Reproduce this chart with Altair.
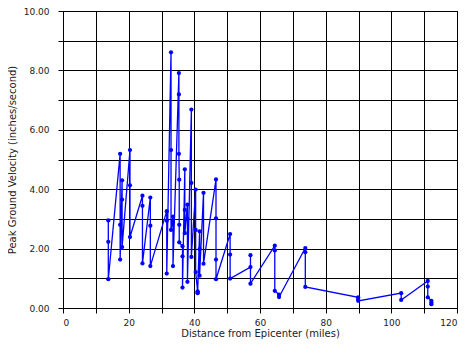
import altair as alt
import pandas as pd

# Distance from epicenter (miles), in recorded order
distance = [
    13.8, 13.8, 13.8,
    17.4, 17.4, 17.4,
    18.0, 18.0, 18.0,
    20.4, 20.4, 20.4,
    24.2, 24.2, 24.2,
    26.6, 26.6, 26.6,
    31.6, 31.6, 31.6,
    32.9, 32.9, 32.9,
    33.5, 33.5, 33.5,
    35.3, 35.3, 35.3,
    35.4, 35.4, 35.4,
    36.4, 36.4, 36.4,
    37.1, 37.1, 37.1,
    37.9, 37.9, 37.9,
    39.1, 39.1, 39.1,
    40.4, 40.4, 40.4,
    41.0, 41.0, 41.0,
    41.6, 41.6, 41.6,
    42.8, 42.8,
    46.6, 46.6, 46.6, 46.6,
    50.9, 50.9, 50.9,
    57.1, 57.1, 57.1,
    64.5, 64.5, 64.5,
    65.8, 65.8,
    73.8, 73.8, 73.8,
    89.9, 89.9, 89.9,
    103.0, 103.0,
    111.1, 111.1, 111.1,
    112.2, 112.2, 112.2,
]

# Peak ground velocity (inches/second)
velocity = [
    2.95, 2.23, 0.97,
    5.19, 2.80, 1.63,
    4.30, 3.65, 2.05,
    5.32, 4.13, 2.39,
    3.78, 3.44, 1.50,
    3.72, 2.77, 1.41,
    3.26, 2.94, 1.16,
    8.61, 5.32, 2.63,
    3.08, 2.90, 1.41,
    7.91, 7.19, 5.19,
    4.32, 2.80, 2.21,
    2.08, 1.74, 0.69,
    4.67, 3.30, 2.52,
    3.48, 3.00, 0.88,
    6.68, 4.21, 1.72,
    3.99, 2.63, 1.21,
    0.56, 0.52, 0.50,
    2.58, 1.98, 1.09,
    3.88, 1.49,
    4.33, 3.02, 1.63, 0.97,
    2.49, 1.80, 0.99,
    1.38, 1.78, 0.82,
    2.10, 1.94, 0.58,
    0.45, 0.37,
    2.02, 1.88, 0.71,
    0.36, 0.30, 0.24,
    0.50, 0.27,
    0.91, 0.72, 0.36,
    0.24, 0.18, 0.13,
]

x_ticks = list(range(0, 121, 10))
y_ticks = list(range(0, 11, 1))

df = pd.DataFrame({
    "order": list(range(len(distance))),
    "distance": distance,
    "velocity": velocity,
})

FONT = "DejaVu Sans"

x_enc = alt.X(
    "distance:Q",
    scale=alt.Scale(domain=[0, 120], nice=False, zero=False),
    axis=alt.Axis(
        values=x_ticks,
        labelExpr="datum.value % 20 == 0 ? datum.label : ''",
        title="Distance from Epicenter (miles)",
        grid=True,
        gridColor="black",
        gridOpacity=1,
        gridWidth=1,
        domainColor="black",
        tickColor="black",
        tickSize=5,
        labelPadding=5,
        titlePadding=1,
        labelFont=FONT,
        labelFontSize=9,
        labelColor="#222222",
        titleFont=FONT,
        titleFontSize=10,
        titleFontWeight="normal",
        titleColor="#222222",
    ),
)

y_enc = alt.Y(
    "velocity:Q",
    scale=alt.Scale(domain=[0, 10], nice=False),
    axis=alt.Axis(
        values=y_ticks,
        labelExpr="datum.value % 2 == 0 ? format(datum.value, '.2f') : ''",
        title="Peak Ground Velocity (inches/second)",
        grid=True,
        gridColor="black",
        gridOpacity=1,
        gridWidth=1,
        domainColor="black",
        tickColor="black",
        tickSize=5,
        labelPadding=9,
        titlePadding=6,
        labelFont=FONT,
        labelFontSize=9,
        labelColor="#222222",
        titleFont=FONT,
        titleFontSize=10,
        titleFontWeight="normal",
        titleColor="#222222",
    ),
)

chart = (
    alt.Chart(df)
    .mark_line(
        color="#0000ff",
        strokeWidth=1.3,
        point=alt.OverlayMarkDef(filled=True, color="#0000ff", size=18, opacity=1),
    )
    .encode(x=x_enc, y=y_enc, order="order:Q")
    .properties(
        width=394,
        height=297,
        autosize=alt.AutoSizeParams(type="none"),
        padding={"left": 55, "top": 3, "right": 9, "bottom": 32},
        background="white",
    )
    .configure_view(stroke="black", strokeWidth=1)
)

chart.save("out.html", embed_options={"renderer": "svg", "actions": False})
